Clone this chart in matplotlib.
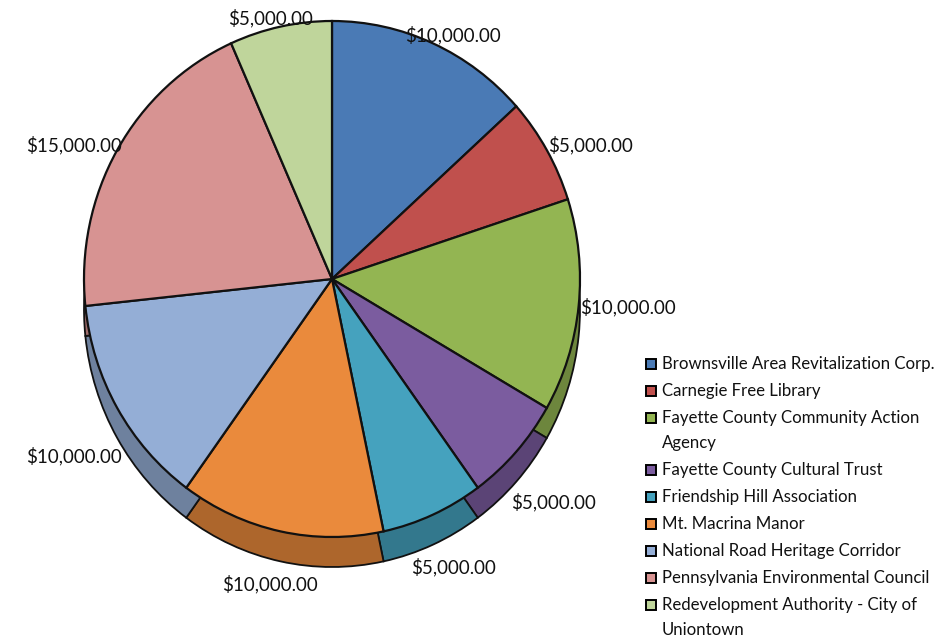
import matplotlib
matplotlib.use("Agg")
import numpy as np
from matplotlib import pyplot as plt
from matplotlib.patches import Rectangle
from matplotlib.colors import to_rgb

# data
categories = ['Brownsville Area Revitalization Corp.', 'Carnegie Free Library',
              'Fayette County Community Action Agency', 'Fayette County Cultural Trust',
              'Friendship Hill Association', 'Mt. Macrina Manor',
              'National Road Heritage Corridor', 'Pennsylvania Environmental Council',
              'Redevelopment Authority - City of Uniontown']
amounts = [10000, 5000, 10000, 5000, 5000, 10000, 10000, 15000, 5000]
legend_lines = [['Brownsville Area Revitalization Corp.'], ['Carnegie Free Library'],
                ['Fayette County Community Action', 'Agency'], ['Fayette County Cultural Trust'],
                ['Friendship Hill Association'], ['Mt. Macrina Manor'],
                ['National Road Heritage Corridor'], ['Pennsylvania Environmental Council'],
                ['Redevelopment Authority - City of', 'Uniontown']]
colors = ['#4a7ab5', '#c0504d', '#93b552', '#7b5c9f', '#45a2be', '#ea8a3c',
          '#94aed6', '#d79392', '#bfd59b']

W, H = 935, 635
CX, CY = 332, 279      # pie centre in pixels
RX, RY = 248, 258      # pie radii in pixels
DEPTH = 30             # side thickness in pixels
FONT = 'Lato'

fig = plt.figure(figsize=(W / 100, H / 100), dpi=100)
ax = fig.add_axes([0, 0, 1, 1])

dark = [tuple(c * 0.74 for c in to_rgb(col)) for col in colors]
d = DEPTH / RY
ax.pie(amounts, colors=dark, startangle=90, counterclock=False, center=(0, -d),
       wedgeprops=dict(edgecolor='#111111', linewidth=1.3))
wedges, _ = ax.pie(amounts, colors=colors, startangle=90, counterclock=False,
                   wedgeprops=dict(edgecolor='#111111', linewidth=1.6))
ax.set_aspect('auto')
ax.set_xlim(-CX / RX, (W - CX) / RX)
ax.set_ylim(-(H - CY) / RY, CY / RY)
ax.axis('off')

# data labels placed outside the rim, like Excel
for w, v in zip(wedges, amounts):
    a = np.deg2rad((w.theta1 + w.theta2) / 2)
    ux, uy = np.cos(a), np.sin(a)
    px = CX + RX * ux + 50 * ux
    py = CY - RY * uy - 9 * uy
    if uy < 0:
        py += (DEPTH + 14) * min(1, max(0, -uy - 0.1) * 3)
    ax.text((px - CX) / RX, (CY - py) / RY, '${:,.2f}'.format(v), ha='center', va='center',
            fontsize=13.5, family=FONT, color='#111111')

# legend
y = 364
for lines, col in zip(legend_lines, colors):
    fig.patches.append(Rectangle((646 / W, 1 - (y + 5) / H), 10 / W, 10 / H,
                                 transform=fig.transFigure, facecolor=col,
                                 edgecolor='black', linewidth=1.4))
    for k, line in enumerate(lines):
        fig.text(662 / W, 1 - (y + 25 * k) / H, line, ha='left', va='center',
                 fontsize=12.1, family=FONT, color='#111111')
    y += 27 + 25 * (len(lines) - 1)

plt.savefig('out.png', dpi=100)
